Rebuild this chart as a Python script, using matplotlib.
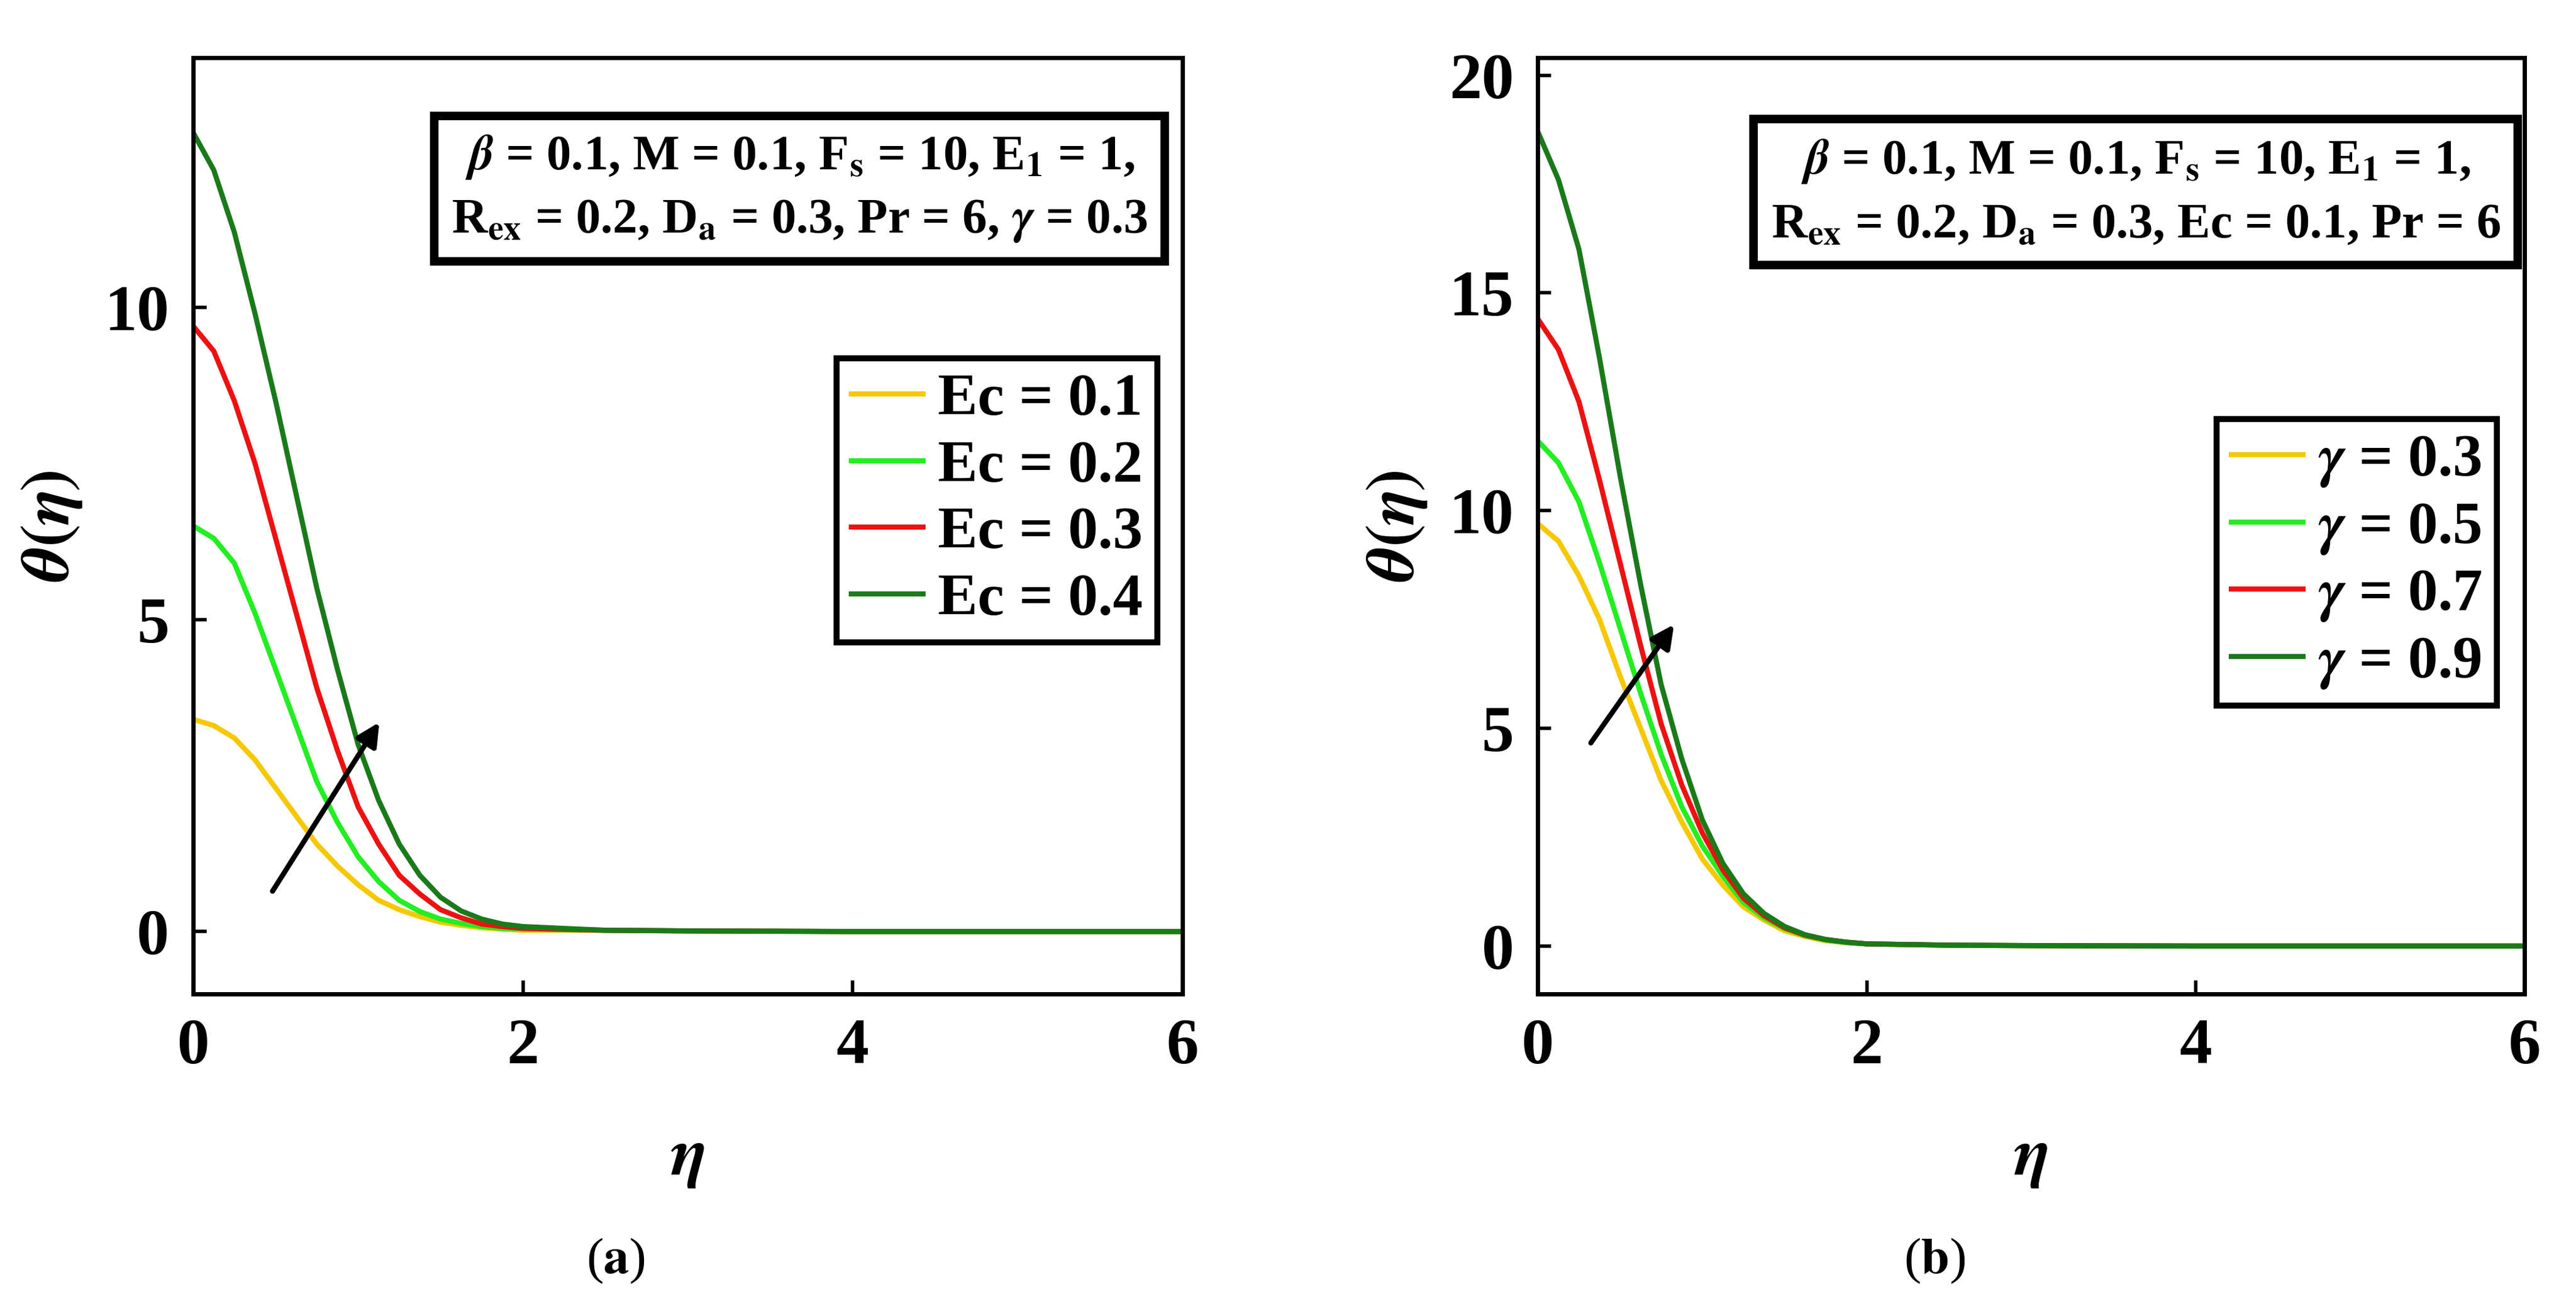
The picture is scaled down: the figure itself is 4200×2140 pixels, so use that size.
import matplotlib
matplotlib.use("Agg")
import matplotlib.pyplot as plt

plt.rcParams['font.family'] = ['Liberation Serif', 'DejaVu Serif']
plt.rcParams['mathtext.fontset'] = 'stix'
plt.rcParams['font.weight'] = 'bold'

eta = [0, 0.125, 0.25, 0.375, 0.5, 0.625, 0.75, 0.875, 1.0, 1.125, 1.25, 1.375, 1.5,
       1.625, 1.75, 1.875, 2.0, 2.5, 3.0, 4.0, 5.0, 6.0]
tail = [0.02, 0.01, 0, 0, 0]
ec_labels = ['Ec = 0.1', 'Ec = 0.2', 'Ec = 0.3', 'Ec = 0.4']
ec_vals = [
    [3.4, 3.3, 3.1, 2.75, 2.3, 1.85, 1.4, 1.05, 0.75, 0.5, 0.35, 0.24, 0.15, 0.1, 0.06, 0.04, 0.02] + tail,
    [6.5, 6.3, 5.9, 5.1, 4.2, 3.3, 2.4, 1.75, 1.2, 0.8, 0.5, 0.32, 0.2, 0.13, 0.08, 0.05, 0.04] + tail,
    [9.7, 9.3, 8.5, 7.5, 6.3, 5.1, 3.9, 2.9, 2.0, 1.4, 0.9, 0.6, 0.35, 0.22, 0.12, 0.08, 0.05] + tail,
    [12.8, 12.2, 11.2, 9.9, 8.5, 7.0, 5.5, 4.2, 3.0, 2.1, 1.4, 0.9, 0.55, 0.33, 0.2, 0.12, 0.08] + tail,
]
g_labels = [r'$\gamma$ = 0.3', r'$\gamma$ = 0.5', r'$\gamma$ = 0.7', r'$\gamma$ = 0.9']
g_vals = [
    [9.7, 9.3, 8.5, 7.5, 6.2, 5.0, 3.8, 2.85, 2.0, 1.4, 0.9, 0.6, 0.35, 0.22, 0.12, 0.08, 0.05] + tail,
    [11.6, 11.1, 10.2, 8.8, 7.3, 5.8, 4.4, 3.2, 2.3, 1.6, 1.0, 0.65, 0.4, 0.24, 0.14, 0.08, 0.05] + tail,
    [14.4, 13.7, 12.5, 10.7, 8.8, 6.9, 5.1, 3.7, 2.6, 1.75, 1.1, 0.7, 0.42, 0.25, 0.15, 0.09, 0.05] + tail,
    [18.7, 17.6, 16.0, 13.5, 10.8, 8.3, 6.0, 4.3, 2.9, 1.9, 1.2, 0.75, 0.45, 0.26, 0.15, 0.09, 0.05] + tail,
]
colors = ['#F5C800', '#22EE22', '#EE1111', '#1A7A1A']

ann_a = ('$\\beta$ = 0.1, M = 0.1, F$_{\\mathbf{s}}$ = 10, E$_{\\mathbf{1}}$ = 1,\n'
         'R$_{\\mathbf{ex}}$ = 0.2, D$_{\\mathbf{a}}$ = 0.3, Pr = 6, $\\gamma$ = 0.3')
ann_b = ('$\\beta$ = 0.1, M = 0.1, F$_{\\mathbf{s}}$ = 10, E$_{\\mathbf{1}}$ = 1,\n'
         'R$_{\\mathbf{ex}}$ = 0.2, D$_{\\mathbf{a}}$ = 0.3, Ec = 0.1, Pr = 6')

fig = plt.figure(figsize=(21, 10.7), dpi=200)
axa = fig.add_axes([0.075, 0.243, 0.384, 0.713])
axb = fig.add_axes([0.597, 0.243, 0.383, 0.713])

def setup(ax, vals, labels, ylim, yticks, ann, annpos, legpos, arrow, cap, capx):
    for v, l, c in zip(vals, labels, colors):
        ax.plot(eta, v, color=c, lw=3, label=l)
    ax.set_xlim(0, 6)
    ax.set_ylim(*ylim)
    ax.set_xticks([0, 2, 4, 6])
    ax.set_yticks(yticks)
    ax.tick_params(labelsize=38, width=2, length=8, direction='in', pad=14)
    for lab in ax.get_xticklabels() + ax.get_yticklabels():
        lab.set_fontweight('bold')
    for s in ax.spines.values():
        s.set_linewidth(2.5)
    ax.set_xlabel(r'$\boldsymbol{\eta}$', fontsize=40, labelpad=30)
    ax.set_ylabel(r'$\boldsymbol{\theta(\eta)}$', fontsize=40, labelpad=12)
    ax.text(annpos[0], annpos[1], ann, transform=ax.transAxes, ha='center', va='center',
            fontsize=29, fontweight='bold', linespacing=1.5,
            bbox=dict(boxstyle='square,pad=0.35', fc='white', ec='black', lw=5))
    leg = ax.legend(loc='upper right', bbox_to_anchor=legpos, frameon=True,
                    fancybox=False, edgecolor='black', handlelength=1.2, borderpad=0.25,
                    labelspacing=0.2, handletextpad=0.25, borderaxespad=0,
                    prop={'weight': 'bold', 'size': 35})
    leg.get_frame().set_linewidth(3.5)
    leg.get_frame().set_alpha(1)
    ax.annotate('', xy=arrow[1], xytext=arrow[0],
                arrowprops=dict(arrowstyle='-|>', lw=3, color='black', mutation_scale=28))
    fig.text(capx, 0.03, cap, ha='center', fontsize=30, fontweight='normal')

setup(axa, ec_vals, ec_labels, (-1, 14), [0, 5, 10], ann_a, (0.613, 0.86), (0.975, 0.679),
      ((0.47, 0.6), (1.14, 3.4)), r'($\mathbf{a}$)', 0.239)
setup(axb, g_vals, g_labels, (-1.1, 20.4), [0, 5, 10, 15, 20], ann_b, (0.606, 0.856), (0.972, 0.614),
      ((0.31, 4.6), (0.84, 7.45)), r'($\mathbf{b}$)', 0.751)

fig.savefig('out.png', dpi=200, facecolor='white')
